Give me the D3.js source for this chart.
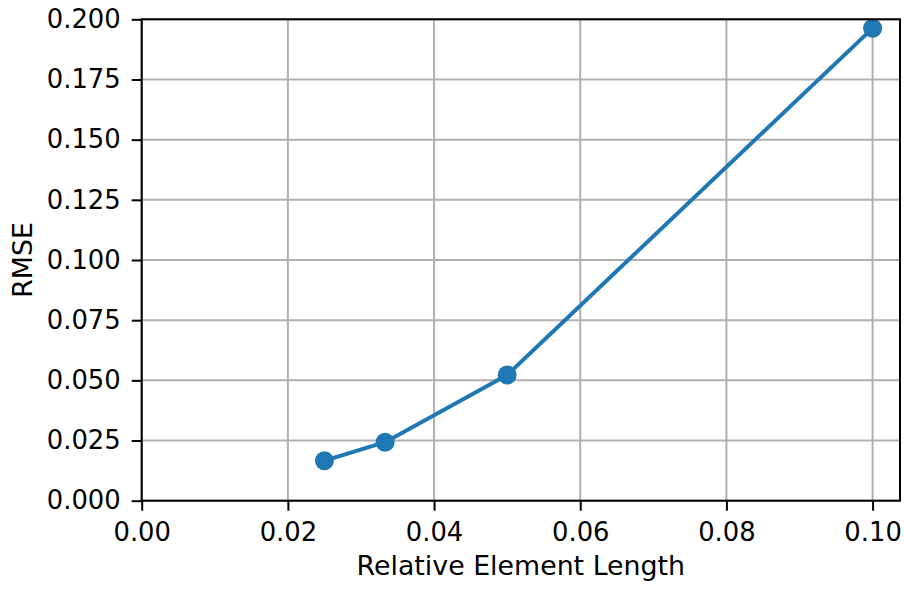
<!DOCTYPE html>
<html><head><meta charset="utf-8">
<script src="https://cdn.jsdelivr.net/npm/d3@7"></script>
<style>body{margin:0;background:#fff}svg{display:block}text{font-family:"DejaVu Sans",sans-serif;fill:#000}</style>
</head><body>
<script>
const xValues = [0.025, 0.0333, 0.05, 0.1];
const rmseValues = [0.0166, 0.0243, 0.0522, 0.1963];
const xTicks = [0, 0.02, 0.04, 0.06, 0.08, 0.10];
const yTicks = [0, 0.025, 0.05, 0.075, 0.1, 0.125, 0.15, 0.175, 0.2];
const xLabel = "Relative Element Length";
const yLabel = "RMSE";

const W = 904, H = 590;
const FS = 25.8, LFS = 26.8;
const m = {left: 141.7, top: 19.3, right: 900, bottom: 500.7};
const svg = d3.select("body").append("svg").attr("width", W).attr("height", H);
const x = d3.scaleLinear().domain([0, 0.10375]).range([m.left, m.right]);
const y = d3.scaleLinear().domain([0, 0.2]).range([m.bottom, m.top]);

// grid
svg.append("g").selectAll("line").data(xTicks).join("line")
  .attr("x1", d => x(d)).attr("x2", d => x(d)).attr("y1", m.top).attr("y2", m.bottom)
  .attr("stroke", "#b0b0b0").attr("stroke-width", 2);
svg.append("g").selectAll("line").data(yTicks).join("line")
  .attr("y1", d => y(d)).attr("y2", d => y(d)).attr("x1", m.left).attr("x2", m.right)
  .attr("stroke", "#b0b0b0").attr("stroke-width", 2);

// axes
const xAxis = d3.axisBottom(x).tickValues(xTicks).tickFormat(d3.format(".2f")).tickSize(10).tickPadding(12);
const yAxis = d3.axisLeft(y).tickValues(yTicks).tickFormat(d3.format(".3f")).tickSize(10).tickPadding(11);
const gx = svg.append("g").attr("transform", `translate(0,${m.bottom})`).call(xAxis);
const gy = svg.append("g").attr("transform", `translate(${m.left},0)`).call(yAxis);
[gx, gy].forEach(g => {
  g.select(".domain").remove();
  g.selectAll(".tick line").attr("stroke", "#000").attr("stroke-width", 2);
  g.selectAll(".tick text").attr("font-size", FS).attr("font-family", "DejaVu Sans").attr("fill", "#000");
});

// line + markers
const line = d3.line().x((d, i) => x(xValues[i])).y(d => y(d));
svg.append("path").datum(rmseValues).attr("d", line)
  .attr("fill", "none").attr("stroke", "#1f77b4").attr("stroke-width", 4).attr("stroke-linejoin", "round").attr("stroke-linecap", "square");
svg.append("g").selectAll("circle").data(rmseValues).join("circle")
  .attr("cx", (d, i) => x(xValues[i])).attr("cy", d => y(d)).attr("r", 9.5).attr("fill", "#1f77b4");

// frame
svg.append("rect").attr("x", m.left).attr("y", m.top).attr("width", m.right - m.left).attr("height", m.bottom - m.top)
  .attr("fill", "none").attr("stroke", "#000").attr("stroke-width", 2);

// labels
svg.append("text").attr("x", (m.left + m.right) / 2).attr("y", 575).attr("text-anchor", "middle")
  .attr("font-size", LFS).text(xLabel);
svg.append("text").attr("transform", `translate(32,${(m.top + m.bottom) / 2}) rotate(-90)`).attr("text-anchor", "middle")
  .attr("font-size", LFS).text(yLabel);
</script>
</body></html>
